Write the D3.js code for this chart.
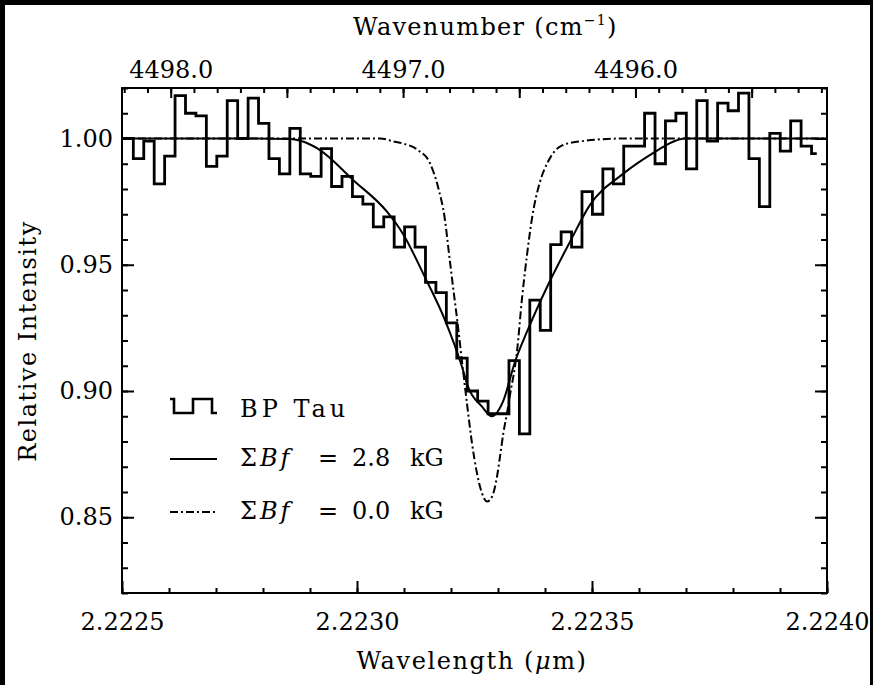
<!DOCTYPE html>
<html>
<head>
<meta charset="utf-8">
<script src="https://cdn.jsdelivr.net/npm/d3@7"></script>
<style>
  html, body { margin: 0; padding: 0; background: #fff; }
  svg { display: block; }
  text { font-family: "DejaVu Serif", "Liberation Serif", "Noto Serif", serif; fill: #000; }
</style>
</head>
<body>
<svg width="873" height="685"></svg>
<script>
// BP Tau observed spectrum (one value per pixel, drawn as a histogram)
const obsWave = [
  2.2224908, 2.2225130, 2.2225352, 2.2225574, 2.2225796, 2.2226018, 2.2226240, 2.2226462,
  2.2226684, 2.2226906, 2.2227128, 2.2227350, 2.2227572, 2.2227794, 2.2228016, 2.2228238,
  2.2228460, 2.2228682, 2.2228904, 2.2229126, 2.2229348, 2.2229570, 2.2229792, 2.2230014,
  2.2230236, 2.2230458, 2.2230680, 2.2230902, 2.2231124, 2.2231346, 2.2231568, 2.2231790,
  2.2232012, 2.2232234, 2.2232456, 2.2232678, 2.2232900, 2.2233122, 2.2233344, 2.2233566,
  2.2233788, 2.2234010, 2.2234232, 2.2234454, 2.2234676, 2.2234898, 2.2235120, 2.2235342,
  2.2235564, 2.2235786, 2.2236008, 2.2236230, 2.2236452, 2.2236674, 2.2236896, 2.2237118,
  2.2237340, 2.2237562, 2.2237784, 2.2238006, 2.2238228, 2.2238450, 2.2238672, 2.2238894,
  2.2239116, 2.2239338, 2.2239560, 2.2239782
];
const obsFlux = [
  1.000, 1.000, 0.992, 0.999, 0.982, 0.993, 1.017, 1.010,
  1.009, 0.989, 0.993, 1.015, 1.000, 1.016, 1.006, 0.992,
  0.986, 1.004, 0.986, 0.985, 0.996, 0.981, 0.985, 0.977,
  0.974, 0.965, 0.969, 0.957, 0.965, 0.957, 0.943, 0.939,
  0.927, 0.913, 0.900, 0.896, 0.891, 0.891, 0.912, 0.883,
  0.936, 0.924, 0.958, 0.963, 0.957, 0.979, 0.970, 0.988,
  0.982, 0.997, 0.997, 1.010, 0.990, 1.007, 1.010, 0.988,
  1.015, 0.999, 1.014, 1.011, 1.018, 0.992, 0.973, 1.002,
  0.995, 1.007, 0.997, 0.994
];

// model with sum Bf = 2.8 kG
const model28Wave = [
  2.2225000, 2.2227723, 2.2228574, 2.2228894, 2.2229213, 2.2229915, 2.2230638, 2.2230979,
  2.2231447, 2.2231872, 2.2232234, 2.2232362, 2.2232660, 2.2232872, 2.2233106, 2.2233362,
  2.2233617, 2.2234064, 2.2234532, 2.2234957, 2.2235660, 2.2236383, 2.2236660, 2.2236979,
  2.2240000
];
const model28Flux = [
  1.000, 1.000, 0.9998, 0.9985, 0.9954, 0.9836, 0.9710, 0.9622,
  0.9450, 0.9281, 0.9096, 0.9017, 0.8938, 0.8900, 0.8958, 0.9116,
  0.9235, 0.9420, 0.9591, 0.9737, 0.9860, 0.9952, 0.9982, 1.000,
  1.000
];

// model with sum Bf = 0.0 kG
const model00Wave = [
  2.2225000, 2.2230489, 2.2230809, 2.2230979, 2.2231298, 2.2231553, 2.2231723, 2.2231872,
  2.2231957, 2.2232043, 2.2232149, 2.2232255, 2.2232340, 2.2232447, 2.2232553, 2.2232660,
  2.2232766, 2.2232872, 2.2232979, 2.2233043, 2.2233113, 2.2233191, 2.2233255, 2.2233404,
  2.2233511, 2.2233617, 2.2233723, 2.2233894, 2.2234064, 2.2234319, 2.2234681, 2.2235660,
  2.2240000
];
const model00Flux = [
  1.000, 1.000, 0.9987, 0.9980, 0.9954, 0.9902, 0.9809, 0.9677,
  0.9545, 0.9413, 0.9255, 0.9083, 0.8950, 0.8793, 0.8674, 0.8595,
  0.8562, 0.8581, 0.8661, 0.8740, 0.8832, 0.8912, 0.8984, 0.9156,
  0.9367, 0.9539, 0.9684, 0.9829, 0.9908, 0.9968, 0.9987, 1.000,
  1.000
];

const xTickLabels = [2.2225, 2.2230, 2.2235, 2.2240];
const yTickLabels = [0.85, 0.90, 0.95, 1.00];
const topTickLabels = [4498.0, 4497.0, 4496.0];
const fieldLabels = ["2.8", "0.0"];

const svg = d3.select("svg");
const W = 873, H = 685;
const M = { left: 122, right: 827, top: 88, bottom: 593 };
const FS = 24;

svg.append("rect").attr("width", W).attr("height", H).attr("fill", "#fff");

const x = d3.scaleLinear().domain([2.2225, 2.2240]).range([M.left, M.right]);
const y = d3.scaleLinear().domain([0.82, 1.02]).range([M.bottom, M.top]);
// top axis: vacuum wavenumber of the air wavelength
const nAir = 1.000273;
const toWavenumber = w => 1e4 / (w * nAir);
const xTop = d3.scaleLinear().domain(x.domain().map(toWavenumber)).range(x.range());

function tidy(g) {
  g.select(".domain").remove();
  g.attr("font-size", FS).attr("font-family", null);
  g.selectAll(".tick line").attr("stroke", "#000").attr("stroke-width", 2);
}

// minor ticks
svg.append("g").attr("transform", `translate(0,${M.bottom})`)
  .call(d3.axisBottom(x).tickValues(x.ticks(15)).tickSize(-5).tickFormat("")).call(tidy);
svg.append("g").attr("transform", `translate(0,${M.top})`)
  .call(d3.axisTop(xTop).tickValues(xTop.ticks(30)).tickSize(-5).tickFormat("")).call(tidy);
svg.append("g").attr("transform", `translate(${M.left},0)`)
  .call(d3.axisLeft(y).tickValues(y.ticks(20)).tickSize(-6).tickFormat("")).call(tidy);
svg.append("g").attr("transform", `translate(${M.right},0)`)
  .call(d3.axisRight(y).tickValues(y.ticks(20)).tickSize(-6).tickFormat("")).call(tidy);

// major ticks + labels
svg.append("g").attr("transform", `translate(0,${M.bottom})`)
  .call(d3.axisBottom(x).tickValues(xTickLabels).tickSize(-12).tickPadding(20)
    .tickFormat(d3.format(".4f"))).call(tidy);
svg.append("g").attr("transform", `translate(0,${M.top})`)
  .call(d3.axisTop(xTop).tickValues(xTop.ticks(6)).tickSize(-10).tickPadding(10)
    .tickFormat(d => topTickLabels.includes(d) ? d.toFixed(1) : "")).call(tidy);
svg.append("g").attr("transform", `translate(${M.left},0)`)
  .call(d3.axisLeft(y).tickValues(yTickLabels).tickSize(-12).tickPadding(9)
    .tickFormat(d3.format(".2f"))).call(tidy);
svg.append("g").attr("transform", `translate(${M.right},0)`)
  .call(d3.axisRight(y).tickValues(yTickLabels).tickSize(-12).tickFormat("")).call(tidy);

// frame
svg.append("rect")
  .attr("x", M.left).attr("y", M.top)
  .attr("width", M.right - M.left).attr("height", M.bottom - M.top)
  .attr("fill", "none").attr("stroke", "#000").attr("stroke-width", 2);

svg.append("clipPath").attr("id", "plot")
  .append("rect").attr("x", M.left).attr("y", M.top)
  .attr("width", M.right - M.left).attr("height", M.bottom - M.top);

const plot = svg.append("g").attr("clip-path", "url(#plot)");

const obs = d3.zip(obsWave, obsFlux);
const m28 = d3.zip(model28Wave, model28Flux);
const m00 = d3.zip(model00Wave, model00Flux);

plot.append("path").datum(m00)
  .attr("fill", "none").attr("stroke", "#000").attr("stroke-width", 2)
  .attr("stroke-dasharray", "8,3,2,3")
  .attr("d", d3.line().x(d => x(d[0])).y(d => y(d[1])).curve(d3.curveMonotoneX));

plot.append("path").datum(m28)
  .attr("fill", "none").attr("stroke", "#000").attr("stroke-width", 2)
  .attr("d", d3.line().x(d => x(d[0])).y(d => y(d[1])).curve(d3.curveMonotoneX));

plot.append("path").datum(obs)
  .attr("fill", "none").attr("stroke", "#000").attr("stroke-width", 2.8)
  .attr("d", d3.line().x(d => x(d[0])).y(d => y(d[1])).curve(d3.curveStep));

// axis titles
const topTitle = svg.append("text").attr("x", 353).attr("y", 35)
  .attr("font-size", FS).attr("letter-spacing", 1.3);
topTitle.append("tspan").text("Wavenumber (cm");
topTitle.append("tspan").attr("font-size", 14).attr("dy", -10).text("−1");
topTitle.append("tspan").attr("dy", 10).text(")");

const bottomTitle = svg.append("text").attr("x", 472).attr("y", 669)
  .attr("text-anchor", "middle").attr("font-size", FS).attr("letter-spacing", 1.6);
bottomTitle.append("tspan").text("Wavelength (");
bottomTitle.append("tspan").attr("font-style", "italic").text("μ");
bottomTitle.append("tspan").text("m)");

svg.append("text")
  .attr("transform", "translate(36,341) rotate(-90)")
  .attr("text-anchor", "middle").attr("font-size", FS).attr("letter-spacing", 1.5)
  .text("Relative Intensity");

// legend
const lg = svg.append("g");
lg.append("path")
  .attr("d", "M170,399 H174 V413 H193 V399 H212 V413 H217")
  .attr("fill", "none").attr("stroke", "#000").attr("stroke-width", 2.6);
lg.append("text").attr("x", 240).attr("y", 417).attr("font-size", FS)
  .attr("letter-spacing", 4).text("BP Tau");

[[466, 459, null], [519, 512, "8,3,2,3"]].forEach(([ty, ly, dash], i) => {
  lg.append("line").attr("x1", 170).attr("x2", 217).attr("y1", ly).attr("y2", ly)
    .attr("stroke", "#000").attr("stroke-width", 2).attr("stroke-dasharray", dash);
  const t = lg.append("text").attr("y", ty).attr("font-size", FS);
  t.append("tspan").attr("x", 240).attr("letter-spacing", 3).text("Σ");
  t.append("tspan").attr("font-style", "italic").attr("letter-spacing", 3).text("Bf");
  t.append("tspan").attr("x", 318).text("=");
  t.append("tspan").attr("x", 352).text(fieldLabels[i]);
  t.append("tspan").attr("x", 410).text("kG");
});

// scan border
svg.append("rect").attr("x", 0).attr("y", 0).attr("width", W).attr("height", 5).attr("fill", "#000");
svg.append("rect").attr("x", 0).attr("y", 0).attr("width", 5).attr("height", H).attr("fill", "#000");
svg.append("rect").attr("x", W - 3).attr("y", 0).attr("width", 3).attr("height", H).attr("fill", "#000");
</script>
</body>
</html>
